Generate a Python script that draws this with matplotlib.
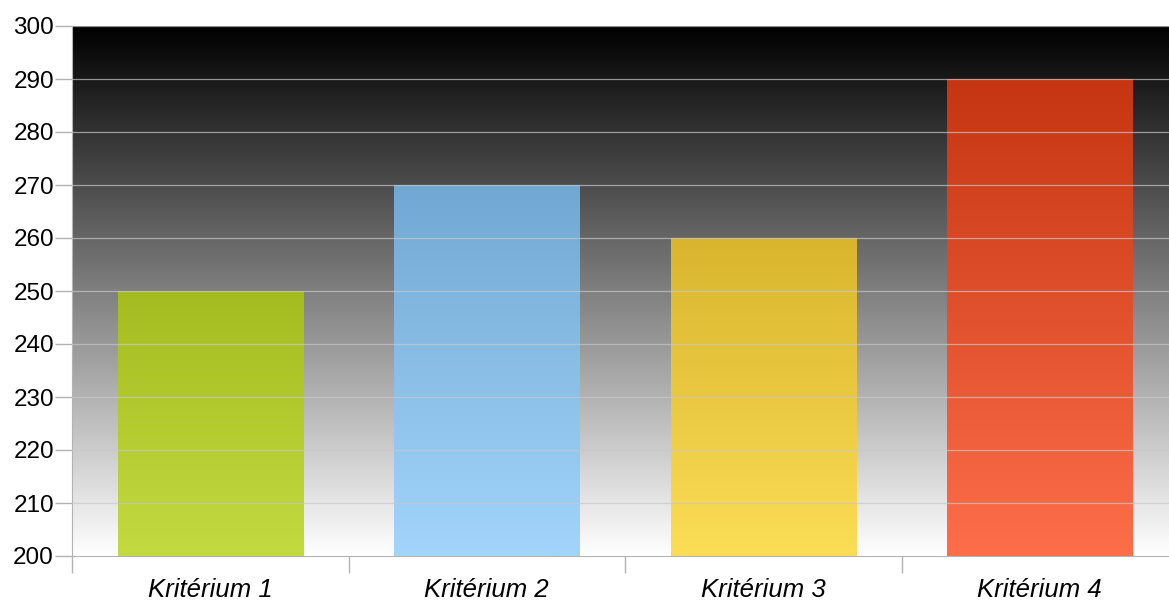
import numpy as np
import matplotlib.pyplot as plt
from matplotlib.colors import LinearSegmentedColormap

plt.rcParams['font.family'] = ['Liberation Sans', 'DejaVu Sans']

# data
categories = ['Kritérium 1', 'Kritérium 2', 'Kritérium 3', 'Kritérium 4']
values = [250, 270, 260, 290]
top_colors = ['#a5bc21', '#71a8d3', '#d8b52d', '#c63511']
bottom_colors = ['#c3da40', '#a3d5fb', '#fcdd56', '#ff6e4a']
yticks = [200, 210, 220, 230, 240, 250, 260, 270, 280, 290, 300]

W, H = 1169, 603
fig = plt.figure(figsize=(W / 100, H / 100), dpi=100)
# plot area runs slightly past the right edge of the image
ax = fig.add_axes([72 / W, (603 - 556) / H, 1106 / W, (556 - 26) / H])

x = np.arange(len(categories))
ax.set_xlim(-0.5, len(categories) - 0.5)
ax.set_ylim(200, 300)

# background gradient black -> white
grad = np.linspace(0, 1, 256).reshape(-1, 1)
bg = LinearSegmentedColormap.from_list('bg', ['#ffffff', '#000000'])
ax.imshow(grad, aspect='auto', cmap=bg, origin='lower',
          extent=[-0.5, len(categories) - 0.5, 200, 300], zorder=0)

bars = ax.bar(x, [v - 200 for v in values], bottom=200, width=0.67,
              color='none', edgecolor='none', zorder=2)
for b, c1, c2 in zip(bars, top_colors, bottom_colors):
    cm = LinearSegmentedColormap.from_list('b', [c2, c1])
    x0, y0 = b.get_x(), b.get_y()
    im = ax.imshow(grad, aspect='auto', cmap=cm, origin='lower',
                   extent=[x0, x0 + b.get_width(), y0, y0 + b.get_height()],
                   zorder=2)
    im.set_clip_path(b)

ax.set_yticks(yticks)
for yt in yticks[1:]:
    ax.axhline(yt, color='#c8c8c8', lw=0.9, alpha=0.7, zorder=3)

ax.set_xticks(x)
ax.set_xticklabels(categories, fontsize=18.5, style='italic')
ax.set_xticks(np.arange(-0.5, len(categories) + 0.5, 1), minor=True)
ax.tick_params(axis='x', which='major', length=0, pad=16)
ax.tick_params(axis='x', which='minor', length=12, color='#b3b3b3', width=1)
ax.tick_params(axis='y', length=12, color='#b3b3b3', width=1, labelsize=17.5, pad=1)

for s in ['top', 'right']:
    ax.spines[s].set_visible(False)
for s in ['left', 'bottom']:
    ax.spines[s].set_color('#b3b3b3')

fig.savefig('out.png', dpi=100)
